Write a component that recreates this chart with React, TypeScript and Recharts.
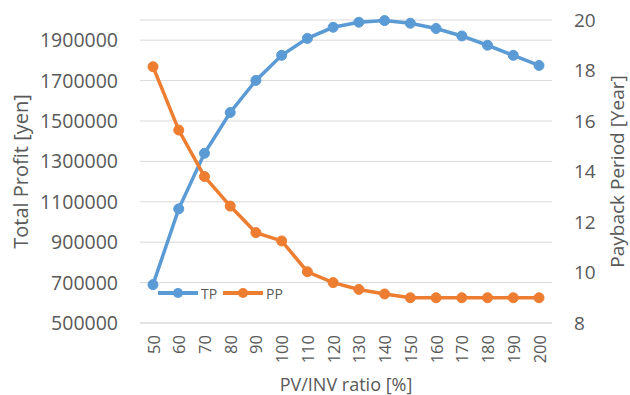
import React from 'react';
import { ComposedChart, Line, XAxis, YAxis, CartesianGrid, Legend, Label } from 'recharts';

// PV/INV ratio categories [%]
const ratios = [50, 60, 70, 80, 90, 100, 110, 120, 130, 140, 150, 160, 170, 180, 190, 200];
// Total Profit [yen]
const totalProfit = [690000, 1065000, 1340000, 1542000, 1701000, 1825000, 1909000, 1964000, 1989000, 1997000, 1984000, 1958000, 1921000, 1875000, 1825000, 1775000];
// Payback Period [Year]
const paybackPeriod = [18.15, 15.64, 13.8, 12.63, 11.58, 11.25, 10.03, 9.6, 9.33, 9.15, 9.0, 9.0, 9.0, 9.0, 9.0, 9.0];

const leftTicks = [500000, 700000, 900000, 1100000, 1300000, 1500000, 1700000, 1900000];
const rightTicks = [8, 10, 12, 14, 16, 18, 20];
const legendOrder = ['TP', 'PP'];

const data = ratios.map((r, i) => ({ ratio: r, TP: totalProfit[i], PP: paybackPeriod[i] }));

const FONT = '"Open Sans", "Noto Sans", sans-serif';
const GRAY = '#595959';
const BLUE = '#5B9BD5';
const ORANGE = '#ED7D31';

function XTick({ x, y, payload }: any) {
  return (
    <text
      x={x}
      y={y}
      transform={`rotate(-90 ${x} ${y})`}
      textAnchor="end"
      dominantBaseline="central"
      fontSize={16.5}
      fontFamily={FONT}
      fill={GRAY}
    >
      {payload.value}
    </text>
  );
}

function LegendContent({ payload }: any) {
  const items = [...(payload || [])].sort(
    (a: any, b: any) => legendOrder.indexOf(a.value) - legendOrder.indexOf(b.value)
  );
  return (
    <svg width={150} height={20}>
      {items.map((item: any, i: number) => {
        const x0 = i * 65;
        return (
          <g key={item.value}>
            <line x1={x0 + 2} y1={10} x2={x0 + 42} y2={10} stroke={item.color} strokeWidth={4} />
            <circle cx={x0 + 22} cy={10} r={5} fill={item.color} />
            <text x={x0 + 45} y={10} dominantBaseline="central" fontSize={14} fontFamily={FONT} fill={GRAY}>
              {item.value}
            </text>
          </g>
        );
      })}
    </svg>
  );
}

function LeftTitle({ viewBox }: any) {
  const cx = 20;
  const cy = viewBox.y + viewBox.height / 2;
  return (
    <text x={cx} y={cy} transform={`rotate(-90 ${cx} ${cy})`} textAnchor="middle" dominantBaseline="central"
      fontSize={20} fontFamily={FONT} fill={GRAY}>
      Total Profit [yen]
    </text>
  );
}

function RightTitle({ viewBox }: any) {
  const cx = viewBox.x + 65;
  const cy = viewBox.y + viewBox.height / 2;
  return (
    <text x={cx} y={cy} transform={`rotate(-90 ${cx} ${cy})`} textAnchor="middle" dominantBaseline="central"
      fontSize={19} fontFamily={FONT} fill={GRAY}>
      Payback Period [Year]
    </text>
  );
}

function BottomTitle({ viewBox }: any) {
  return (
    <text x={viewBox.x + viewBox.width / 2} y={viewBox.y + 61} textAnchor="middle" dominantBaseline="central"
      fontSize={18} fontFamily={FONT} fill={GRAY}>
      PV/INV ratio [%]
    </text>
  );
}

export default function App() {
  return (
    <div style={{ position: 'absolute', left: 0, top: 0, width: 630, height: 395, background: '#fff' }}>
      <ComposedChart width={630} height={395} data={data} margin={{ top: 20, right: 0, bottom: 0, left: 0 }}>
        <CartesianGrid yAxisId="left" vertical={false} stroke="#D9D9D9" strokeWidth={1} />
        <XAxis
          dataKey="ratio"
          interval={0}
          height={72}
          padding={{ left: 13, right: 13 }}
          tickLine={false}
          axisLine={{ stroke: '#D9D9D9' }}
          tickSize={0}
          tickMargin={12}
          tick={<XTick />}
        >
          <Label content={<BottomTitle />} />
        </XAxis>
        <YAxis
          yAxisId="left"
          orientation="left"
          width={140}
          domain={[500000, 2000000]}
          ticks={leftTicks}
          interval={0}
          axisLine={false}
          tickLine={false}
          tickSize={0}
          tickMargin={22}
          tick={{ fontSize: 19.5, fontFamily: FONT, fill: GRAY }}
        >
          <Label content={<LeftTitle />} />
        </YAxis>
        <YAxis
          yAxisId="right"
          orientation="right"
          width={78}
          domain={[8, 20]}
          ticks={rightTicks}
          interval={0}
          axisLine={false}
          tickLine={false}
          tickSize={0}
          tickMargin={22}
          tick={{ fontSize: 19, fontFamily: FONT, fill: GRAY }}
        >
          <Label content={<RightTitle />} />
        </YAxis>
        <Legend
          layout="horizontal"
          verticalAlign="middle"
          align="center"
          content={<LegendContent />}
          wrapperStyle={{ left: 156, top: 283, width: 150, height: 20 }}
        />
        <Line
          yAxisId="left"
          dataKey="TP"
          name="TP"
          stroke={BLUE}
          strokeWidth={3.5}
          dot={{ r: 5, fill: BLUE, stroke: BLUE, strokeWidth: 1 }}
          isAnimationActive={false}
        />
        <Line
          yAxisId="right"
          dataKey="PP"
          name="PP"
          stroke={ORANGE}
          strokeWidth={3.5}
          dot={{ r: 5, fill: ORANGE, stroke: ORANGE, strokeWidth: 1 }}
          isAnimationActive={false}
        />
      </ComposedChart>
    </div>
  );
}
